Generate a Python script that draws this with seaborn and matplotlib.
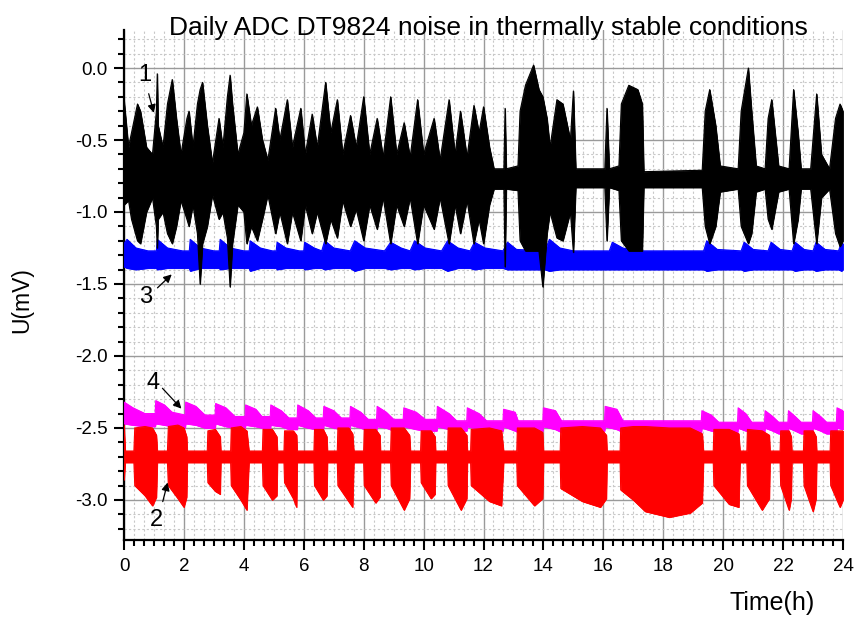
import matplotlib
matplotlib.use("Agg")
import matplotlib.pyplot as plt
import seaborn as sns
import pandas as pd
from matplotlib.ticker import MultipleLocator

# ---------------- data (envelopes, mV vs hours) -------------
TITLE = "Daily ADC DT9824 noise in thermally stable conditions"
X_LABEL = "Time(h)"
Y_LABEL = "U(mV)"
X_TICKS = [0, 2, 4, 6, 8, 10, 12, 14, 16, 18, 20, 22, 24]
Y_TICKS = [0.0, -0.5, -1.0, -1.5, -2.0, -2.5, -3.0]
SERIES_NAMES = ["1", "2", "3", "4"]
SERIES_COLORS = {"1": "#000000", "2": "#FF0000", "3": "#0000FF", "4": "#FF00FF"}

# series 1 (black)
S1_T = [0.00, 0.15, 0.25, 0.45, 0.55, 0.75, 0.95, 1.08, 1.11, 1.14, 1.30, 1.45, 1.61, 1.75, 1.90,
        2.10, 2.17, 2.30, 2.45, 2.54, 2.62, 2.78, 2.95, 3.17, 3.30, 3.45, 3.54, 3.62, 3.80, 4.00,
        4.10, 4.25, 4.45, 4.62, 4.80, 5.06, 5.20, 5.45, 5.62, 5.90, 6.05, 6.28, 6.45, 6.73, 6.90,
        7.12, 7.30, 7.56, 7.75, 8.00, 8.20, 8.45, 8.65, 8.90, 9.10, 9.35, 9.55, 9.80, 10.00, 10.35,
        10.55, 10.85, 11.05, 11.23, 11.45, 11.68, 11.85, 12.00, 12.20, 12.35, 12.68, 12.72, 12.76,
        13.15, 13.22, 13.40, 13.67, 13.85, 13.98, 14.12, 14.22, 14.45, 14.65, 14.90, 15.00, 15.08,
        16.05, 16.12, 16.20, 16.52, 16.60, 16.85, 17.15, 17.30, 17.35, 19.30, 19.40, 19.55, 19.75,
        19.90, 20.50, 20.60, 20.84, 20.95, 21.10, 21.40, 21.50, 21.62, 21.85, 22.20, 22.35, 22.50,
        22.60, 22.92, 23.12, 23.28, 23.55, 23.75, 23.90, 24.00]
S1_UP = [-0.22, -0.55, -0.45, -0.25, -0.30, -0.55, -0.60, -0.30, -0.04, -0.40, -0.55, -0.25, -0.08, -0.35, -0.60,
         -0.35, -0.30, -0.55, -0.25, -0.15, -0.10, -0.40, -0.66, -0.35, -0.55, -0.20, -0.05, -0.25, -0.60, -0.45,
         -0.18, -0.40, -0.27, -0.50, -0.64, -0.28, -0.50, -0.22, -0.55, -0.28, -0.60, -0.32, -0.55, -0.10, -0.45,
         -0.22, -0.60, -0.33, -0.55, -0.20, -0.60, -0.35, -0.62, -0.20, -0.60, -0.38, -0.62, -0.22, -0.60, -0.35,
         -0.64, -0.22, -0.60, -0.30, -0.62, -0.26, -0.45, -0.27, -0.55, -0.70, -0.70, -0.28, -0.70,
         -0.68, -0.30, -0.12, 0.02, -0.15, -0.20, -0.35, -0.55, -0.22, -0.25, -0.50, -0.16, -0.70,
         -0.70, -0.28, -0.70, -0.68, -0.25, -0.12, -0.15, -0.25, -0.72, -0.71, -0.30, -0.15, -0.40,
         -0.68, -0.70, -0.30, 0.00, -0.30, -0.68, -0.70, -0.35, -0.22, -0.68, -0.70, -0.15, -0.45,
         -0.70, -0.70, -0.18, -0.60, -0.70, -0.35, -0.25, -0.30]
S1_LO = [-0.95, -0.92, -1.05, -1.20, -1.22, -1.00, -0.90, -1.10, -1.25, -1.05, -1.00, -1.15, -1.22, -1.10, -0.92,
         -1.05, -1.10, -0.95, -1.15, -1.50, -1.22, -1.10, -0.88, -1.05, -1.00, -1.18, -1.52, -1.22, -0.95, -1.00,
         -1.22, -1.10, -1.20, -1.05, -0.88, -1.15, -1.00, -1.22, -1.00, -1.20, -0.95, -1.15, -1.00, -1.22, -1.05,
         -1.18, -0.92, -1.10, -0.98, -1.20, -0.95, -1.12, -0.90, -1.22, -0.95, -1.10, -0.90, -1.22, -0.95, -1.12,
         -0.90, -1.22, -0.95, -1.15, -0.92, -1.22, -1.05, -1.22, -0.95, -0.84, -0.84, -1.38, -0.84,
         -0.85, -1.20, -1.27, -1.27, -1.27, -1.52, -1.15, -1.00, -1.18, -1.20, -1.00, -1.28, -0.83,
         -0.83, -1.20, -0.83, -0.85, -1.20, -1.27, -1.27, -1.27, -0.83, -0.83, -1.10, -1.22, -1.10,
         -0.86, -0.84, -1.10, -1.22, -1.15, -0.86, -0.84, -1.05, -1.12, -0.86, -0.84, -1.22, -1.05,
         -0.84, -0.84, -1.22, -0.90, -0.84, -1.15, -1.24, -1.20]

# series 3 (blue)
S3_T = [0.00, 0.10, 0.40, 0.80, 1.08, 1.11, 1.45, 1.95, 2.18, 2.21, 2.55, 3.00, 3.18, 3.21, 3.55, 4.00,
        4.18, 4.21, 4.55, 4.95, 5.08, 5.11, 5.40, 5.85, 6.00, 6.03, 6.35, 6.60, 6.70, 7.00, 7.55, 7.70,
        8.05, 8.70, 8.90, 9.25, 9.55, 9.70, 10.05, 10.60, 10.80, 11.15, 11.55, 11.70, 12.05, 12.65, 12.80,
        13.10, 14.05, 14.20, 14.55, 15.00, 16.20, 16.30, 16.65, 17.10, 19.35, 19.45, 19.80, 20.60, 20.70,
        21.00, 21.50, 21.60, 21.90, 22.30, 22.40, 22.70, 23.00, 23.10, 23.40, 23.85, 23.95, 24.00]
S3_UP = [-1.22, -1.19, -1.25, -1.27, -1.27, -1.19, -1.25, -1.27, -1.27, -1.19, -1.25, -1.27, -1.27, -1.19, -1.25, -1.27,
         -1.27, -1.20, -1.25, -1.27, -1.27, -1.21, -1.25, -1.27, -1.27, -1.21, -1.25, -1.27, -1.20, -1.25, -1.27, -1.20,
         -1.25, -1.27, -1.21, -1.25, -1.27, -1.20, -1.25, -1.27, -1.20, -1.25, -1.27, -1.21, -1.25, -1.27, -1.21,
         -1.26, -1.27, -1.19, -1.25, -1.27, -1.27, -1.21, -1.25, -1.27, -1.27, -1.20, -1.26, -1.27, -1.21,
         -1.26, -1.27, -1.21, -1.26, -1.27, -1.21, -1.26, -1.27, -1.21, -1.26, -1.27, -1.21, -1.22]
S3_LO = [-1.38, -1.39, -1.40, -1.39, -1.39, -1.40, -1.39, -1.39, -1.39, -1.41, -1.39, -1.39, -1.39, -1.40, -1.39, -1.39,
         -1.39, -1.41, -1.39, -1.39, -1.39, -1.40, -1.39, -1.39, -1.39, -1.40, -1.39, -1.39, -1.40, -1.39, -1.39, -1.41,
         -1.39, -1.39, -1.40, -1.39, -1.39, -1.40, -1.39, -1.39, -1.41, -1.39, -1.39, -1.40, -1.39, -1.39, -1.40,
         -1.40, -1.40, -1.41, -1.40, -1.40, -1.40, -1.40, -1.40, -1.40, -1.40, -1.41, -1.40, -1.40, -1.41,
         -1.40, -1.40, -1.40, -1.40, -1.40, -1.41, -1.40, -1.40, -1.41, -1.40, -1.40, -1.41, -1.40]

# series 4 (magenta)
S4_T = [0.00, 0.30, 0.70, 1.04, 1.06, 1.35, 1.60, 2.04, 2.06, 2.40, 2.70, 3.04, 3.06, 3.40, 3.70, 4.04,
        4.06, 4.40, 4.60, 4.88, 4.90, 5.25, 5.50, 5.78, 5.80, 6.15, 6.40, 6.65, 6.67, 7.00, 7.25, 7.54,
        7.56, 7.90, 8.15, 8.43, 8.45, 8.75, 9.00, 9.32, 9.34, 9.75, 10.05, 10.44, 10.46, 10.85, 11.10,
        11.44, 11.46, 11.85, 12.10, 12.65, 12.67, 13.05, 13.15, 13.98, 14.00, 14.40, 14.60, 16.04, 16.06,
        16.45, 16.65, 19.27, 19.29, 19.60, 19.85, 20.48, 20.50, 20.75, 20.95, 21.38, 21.40, 21.65, 21.85,
        22.16, 22.18, 22.40, 22.60, 22.98, 23.00, 23.25, 23.45, 23.78, 23.80, 24.00]
S4_UP = [-2.32, -2.36, -2.40, -2.40, -2.31, -2.34, -2.39, -2.41, -2.32, -2.35, -2.41, -2.41, -2.33, -2.36, -2.42, -2.42,
         -2.34, -2.37, -2.42, -2.42, -2.34, -2.38, -2.43, -2.43, -2.34, -2.38, -2.43, -2.43, -2.35, -2.38, -2.43, -2.43,
         -2.35, -2.39, -2.44, -2.44, -2.35, -2.39, -2.44, -2.44, -2.36, -2.39, -2.44, -2.44, -2.35, -2.40, -2.45,
         -2.45, -2.36, -2.40, -2.45, -2.45, -2.37, -2.39, -2.45, -2.45, -2.36, -2.38, -2.45, -2.45, -2.35,
         -2.37, -2.45, -2.45, -2.38, -2.41, -2.46, -2.46, -2.36, -2.40, -2.46, -2.46, -2.38, -2.42, -2.46,
         -2.46, -2.38, -2.42, -2.46, -2.46, -2.38, -2.42, -2.46, -2.46, -2.36, -2.38]
S4_LO = [-2.47, -2.48, -2.49, -2.49, -2.47, -2.48, -2.49, -2.50, -2.47, -2.48, -2.50, -2.50, -2.47, -2.49, -2.50, -2.50,
         -2.48, -2.49, -2.50, -2.51, -2.48, -2.49, -2.51, -2.51, -2.48, -2.50, -2.51, -2.51, -2.48, -2.50, -2.51, -2.51,
         -2.48, -2.50, -2.52, -2.52, -2.49, -2.50, -2.52, -2.52, -2.49, -2.51, -2.52, -2.52, -2.49, -2.51, -2.52,
         -2.52, -2.49, -2.51, -2.52, -2.52, -2.49, -2.52, -2.53, -2.52, -2.49, -2.51, -2.53, -2.52, -2.49,
         -2.51, -2.53, -2.53, -2.50, -2.52, -2.53, -2.53, -2.50, -2.52, -2.53, -2.53, -2.50, -2.52, -2.54,
         -2.54, -2.50, -2.52, -2.54, -2.54, -2.50, -2.52, -2.54, -2.54, -2.50, -2.51]

# series 2 (red)
S2_T = [0.00, 0.04, 0.33, 0.36, 0.70, 0.95, 1.08, 1.11, 1.45, 1.48, 1.80, 2.00, 2.09, 2.11, 2.78, 2.80,
        3.05, 3.21, 3.23, 3.56, 3.58, 3.90, 4.10, 4.17, 4.62, 4.64, 4.95, 5.10, 5.12, 5.34, 5.36, 5.65,
        5.76, 5.78, 6.34, 6.36, 6.65, 6.77, 6.79, 7.12, 7.14, 7.50, 7.63, 7.67, 8.00, 8.02, 8.40, 8.54,
        8.56, 8.90, 8.92, 9.35, 9.53, 9.56, 9.90, 9.92, 10.25, 10.38, 10.40, 10.80, 10.82, 11.25, 11.44,
        11.46, 11.57, 11.59, 12.20, 12.60, 12.67, 13.11, 13.13, 13.70, 13.97, 14.00, 14.56, 14.58, 15.30,
        15.90, 16.10, 16.12, 16.56, 16.58, 17.00, 17.40, 18.20, 18.90, 19.30, 19.34, 19.67, 19.69, 20.20,
        20.52, 20.56, 20.79, 20.81, 21.30, 21.54, 21.56, 21.90, 21.92, 22.20, 22.27, 22.29, 22.68, 22.70,
        23.00, 23.10, 23.12, 23.57, 23.59, 23.90, 24.00]
S2_UP = [-2.48, -2.66, -2.66, -2.50, -2.49, -2.50, -2.55, -2.66, -2.66, -2.49, -2.48, -2.50, -2.56, -2.66, -2.66, -2.52,
         -2.51, -2.56, -2.66, -2.66, -2.50, -2.49, -2.52, -2.66, -2.66, -2.51, -2.51, -2.56, -2.66, -2.66, -2.52, -2.52,
         -2.55, -2.66, -2.66, -2.51, -2.51, -2.56, -2.66, -2.66, -2.50, -2.50, -2.54, -2.66, -2.66, -2.51, -2.51, -2.55,
         -2.66, -2.66, -2.50, -2.50, -2.55, -2.66, -2.66, -2.52, -2.52, -2.56, -2.66, -2.66, -2.50, -2.50, -2.55,
         -2.66, -2.66, -2.51, -2.50, -2.52, -2.66, -2.66, -2.50, -2.50, -2.53, -2.66, -2.66, -2.50, -2.49,
         -2.50, -2.55, -2.66, -2.66, -2.50, -2.49, -2.49, -2.50, -2.50, -2.54, -2.66, -2.66, -2.51, -2.51,
         -2.54, -2.66, -2.66, -2.51, -2.52, -2.55, -2.66, -2.66, -2.52, -2.52, -2.56, -2.66, -2.66, -2.52,
         -2.52, -2.56, -2.66, -2.66, -2.52, -2.52, -2.52]
S2_LO = [-2.86, -2.74, -2.74, -2.90, -2.97, -3.04, -2.98, -2.74, -2.74, -2.90, -2.99, -3.05, -2.98, -2.74, -2.74, -2.88,
         -2.94, -2.96, -2.74, -2.74, -2.90, -3.00, -3.07, -2.74, -2.74, -2.90, -3.00, -2.97, -2.74, -2.74, -2.88, -2.99,
         -3.05, -2.74, -2.74, -2.90, -3.00, -2.97, -2.74, -2.74, -2.90, -3.01, -3.05, -2.74, -2.74, -2.90, -3.02, -2.98,
         -2.74, -2.74, -2.90, -3.07, -2.99, -2.74, -2.74, -2.88, -2.99, -2.96, -2.74, -2.74, -2.90, -3.07, -2.99,
         -2.74, -2.74, -2.90, -3.01, -3.04, -2.74, -2.74, -2.90, -3.04, -2.99, -2.74, -2.74, -2.92, -3.01,
         -3.05, -2.99, -2.74, -2.74, -2.93, -3.00, -3.08, -3.12, -3.09, -3.02, -2.74, -2.74, -2.90, -3.03,
         -3.05, -2.74, -2.74, -2.90, -3.07, -2.99, -2.74, -2.74, -2.90, -3.07, -2.99, -2.74, -2.74, -2.90,
         -3.08, -2.99, -2.74, -2.74, -2.90, -3.05, -3.00]

# labels of curves: text position, arrow tail and arrow head, in data units
LABEL_TEXT_POS = {"1": (0.70, -0.05), "3": (0.73, -1.59), "4": (0.97, -2.19), "2": (1.07, -3.14)}
LABEL_TAIL_POS = {"1": (0.80, -0.16), "3": (1.05, -1.54), "4": (1.22, -2.21), "2": (1.27, -3.03)}
LABEL_HEAD_POS = {"1": (1.02, -0.33), "3": (1.66, -1.42), "4": (1.98, -2.38), "2": (1.48, -2.86)}

# ---------------- figure -------------
sns.set_style("white")
plt.rcParams["font.family"] = ["Liberation Sans", "DejaVu Sans"]
plt.rcParams["text.color"] = "black"
plt.rcParams["axes.labelcolor"] = "black"
plt.rcParams["xtick.color"] = "black"
plt.rcParams["ytick.color"] = "black"

W, H = 866, 620
fig = plt.figure(figsize=(W / 100, H / 100), dpi=100)
ax = fig.add_axes([124 / W, 1 - 540 / H, 719 / W, 510 / H])

series = {
    "3": (S3_T, S3_UP, S3_LO),
    "1": (S1_T, S1_UP, S1_LO),
    "4": (S4_T, S4_UP, S4_LO),
    "2": (S2_T, S2_UP, S2_LO),
}
for name, (t, up, lo) in series.items():
    df = pd.DataFrame({"t": t, "up": up, "lo": lo})
    col = SERIES_COLORS[name]
    ax.fill_between(df["t"], df["lo"], df["up"], facecolor=col, edgecolor=col, lw=0.6, zorder=3)
    sns.lineplot(data=df, x="t", y="up", color=col, lw=0.8, ax=ax, estimator=None, zorder=3)
    sns.lineplot(data=df, x="t", y="lo", color=col, lw=0.8, ax=ax, estimator=None, zorder=3)

ax.set_xlim(0, 24)
ax.set_ylim(-3.278, 0.264)
ax.set_xticks(X_TICKS)
ax.set_yticks(Y_TICKS)
ax.set_yticklabels([f"{v:.1f}" for v in Y_TICKS])
ax.xaxis.set_minor_locator(MultipleLocator(1 / 3))
ax.yaxis.set_minor_locator(MultipleLocator(0.1))
ax.set_xlabel("")
ax.set_ylabel("")

ax.grid(which="major", color="#9a9a9a", lw=1.0, zorder=0)
ax.grid(which="minor", color="#c8c8c8", lw=0.8, ls=(0, (2, 2)), zorder=0)
ax.set_axisbelow(True)

for s in ["top", "right"]:
    ax.spines[s].set_visible(False)
for s in ["left", "bottom"]:
    ax.spines[s].set_color("black")
    ax.spines[s].set_linewidth(1.6)

ax.tick_params(which="major", direction="out", length=7, width=1.5, colors="black",
               labelcolor="black", labelsize=13.5, left=True, bottom=True)
ax.tick_params(which="minor", direction="out", length=4.5, width=1.5, colors="black",
               left=True, bottom=True)
ax.tick_params(axis="y", which="major", pad=5)
ax.tick_params(axis="x", which="major", pad=6)

for name in ["1", "3", "4", "2"]:
    tx, ty = LABEL_TEXT_POS[name]
    ax.text(tx, ty, name, fontsize=17, ha="center", va="center", color="black", zorder=6)
    ax.annotate("", xy=LABEL_HEAD_POS[name], xytext=LABEL_TAIL_POS[name],
                arrowprops=dict(arrowstyle="-|>", color="black", lw=0.9, mutation_scale=12),
                zorder=6)

fig.text(488 / W, 1 - 35 / H, TITLE, ha="center", va="baseline", fontsize=19, color="black")
fig.text(772 / W, 1 - 610 / H, X_LABEL, ha="center", va="baseline", fontsize=18, color="black")
fig.text(22 / W, 1 - 300 / H, Y_LABEL, ha="center", va="center", rotation=90, fontsize=16.5,
         color="black")

fig.savefig("out.png", dpi=100)
